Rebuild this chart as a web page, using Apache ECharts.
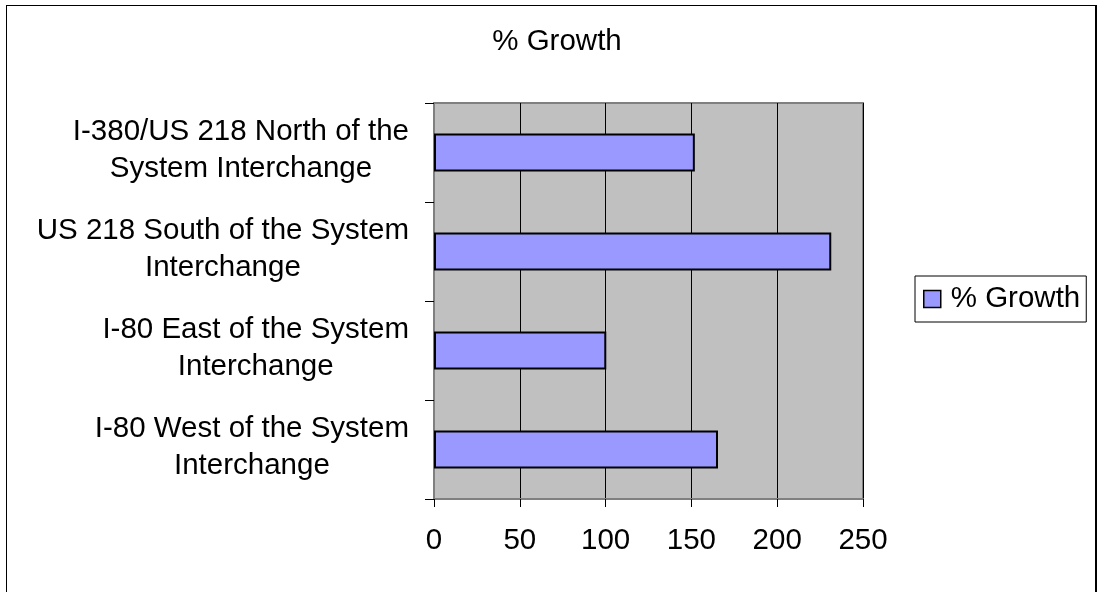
<!DOCTYPE html>
<html>
<head>
<meta charset="utf-8">
<script src="https://cdn.jsdelivr.net/npm/echarts@6/dist/echarts.min.js"></script>
<style>
html,body{margin:0;padding:0;background:#fff;overflow:hidden;}
#frame{position:absolute;left:6px;top:5px;width:1088px;height:600px;border:1px solid #000;border-right:2px solid #000;border-bottom:none;}
#chart{position:absolute;left:0;top:0;width:1102px;height:592px;}
</style>
</head>
<body>
<div id="frame"></div>
<div id="chart"></div>
<script>
var chartTitle = '% Growth';
var seriesName = '% Growth';
var categories = [
  'I-80 West of the System\nInterchange',
  'I-80 East of the System\nInterchange',
  'US 218 South of the System\nInterchange',
  'I-380/US 218 North of the\nSystem Interchange'
];
var values = [165.5, 100.4, 231.5, 152];
var xTicks = [0, 50, 100, 150, 200, 250];

var font = 'Liberation Sans, Arial, sans-serif';
var fs = 29.5;
var chart = echarts.init(document.getElementById('chart'), null, {renderer: 'canvas'});
chart.setOption({
  backgroundColor: 'transparent',
  animation: false,
  title: {
    text: chartTitle,
    left: 552, top: 22, textAlign: 'center',
    textStyle: {fontFamily: font, fontSize: fs, fontWeight: 'normal', color: '#000'}
  },
  legend: {
    data: [seriesName],
    left: 915, top: 276,
    padding: [8, 6, 8, 8],
    borderColor: '#000', borderWidth: 1,
    itemWidth: 17, itemHeight: 17,
    icon: 'rect',
    itemStyle: {color: '#9999ff', borderColor: '#000', borderWidth: 1.5},
    textStyle: {fontFamily: font, fontSize: fs, color: '#000', padding: [0, 0, 0, 5]}
  },
  grid: {
    left: 434, right: 239, top: 103, bottom: 93,
    show: true, backgroundColor: '#c0c0c0', borderColor: '#808080', borderWidth: 2,
    containLabel: false
  },
  xAxis: {
    type: 'value', min: xTicks[0], max: xTicks[xTicks.length - 1], interval: 50,
    axisLine: {show: true, lineStyle: {color: '#808080', width: 2}},
    axisTick: {show: true, length: 8, lineStyle: {color: '#000'}},
    axisLabel: {margin: 27, fontFamily: font, fontSize: fs, color: '#000'},
    splitLine: {show: true, lineStyle: {color: '#000', width: 1}}
  },
  yAxis: {
    type: 'category', data: categories,
    axisLine: {show: true, lineStyle: {color: '#808080', width: 2}},
    axisTick: {show: true, length: 9, inside: false, lineStyle: {color: '#000'}},
    axisLabel: {
      margin: 25, fontFamily: font, fontSize: fs, color: '#000', lineHeight: 37,
      formatter: function (v) {
        var p = v.split('\n');
        return '{a|' + p[0] + '}\n{a|' + p[1] + '}';
      },
      rich: {
        a: {fontFamily: font, fontSize: fs, lineHeight: 37, color: '#000', align: 'center', padding: [0, 0, 5, 0]}
      }
    },
    splitLine: {show: false}
  },
  series: [{
    name: seriesName,
    type: 'bar',
    data: values,
    barWidth: 38,
    itemStyle: {color: '#9999ff', borderColor: '#000', borderWidth: 2}
  }]
});
</script>
</body>
</html>
